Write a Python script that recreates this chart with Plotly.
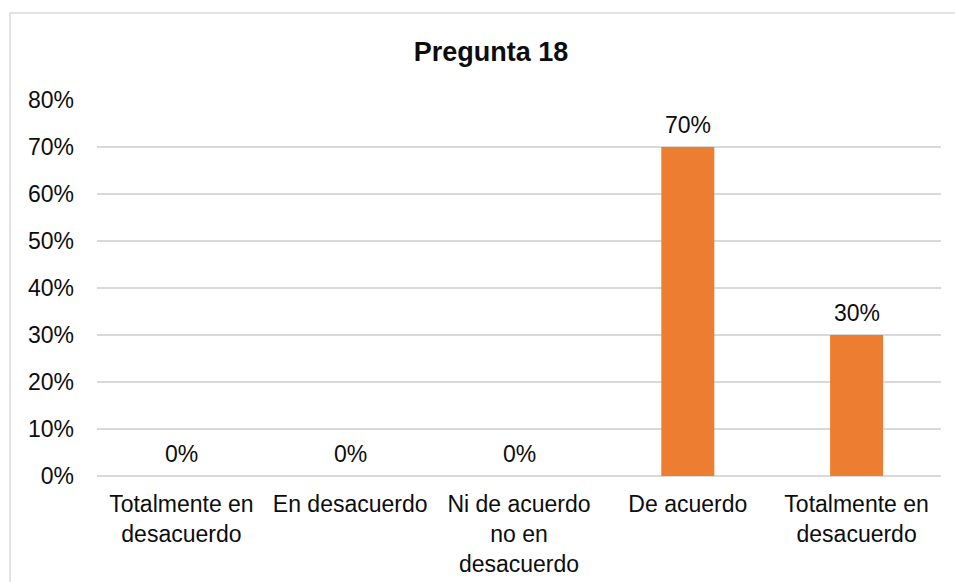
import plotly.graph_objects as go

categories = ["Totalmente en<br>desacuerdo", "En desacuerdo", "Ni de acuerdo<br>no en<br>desacuerdo",
              "De acuerdo", "Totalmente en<br>desacuerdo"]
values = [0.0, 0.0, 0.0, 0.70, 0.30]
title = "Pregunta 18"

W, H = 955, 582
L, R, T, B = 97, 14, 100, 106
pw, ph = W - L - R, H - T - B

xs = list(range(len(categories)))
font = dict(family="Liberation Sans, Arial, sans-serif", size=23, color="#0d0d0d")

fig = go.Figure()
fig.add_trace(go.Bar(x=xs, y=values, marker=dict(color="#ED7D31", line=dict(width=0)),
                     hoverinfo="skip"))

for x, v in zip(xs, values):
    fig.add_annotation(x=x, y=v, text=f"{v*100:.0f}%", showarrow=False, xref="x", yref="y",
                       yanchor="bottom", yshift=7, font=font)

fig.add_shape(type="rect", xref="paper", yref="paper",
              x0=(10 - L) / pw, x1=1.2, y0=-0.6, y1=(ph + T - 13) / ph,
              line=dict(color="#D9D9D9", width=1.5), fillcolor="rgba(0,0,0,0)")

fig.update_layout(
    width=W, height=H,
    margin=dict(l=L, r=R, t=T, b=B, pad=0, autoexpand=False),
    paper_bgcolor="white", plot_bgcolor="white",
    bargap=0.686,
    showlegend=False,
    font=font,
    title=dict(text=f"<b>{title}</b>", x=491 / W, xref="container", xanchor="center",
               y=1 - 52 / H, yref="container", yanchor="middle",
               font=dict(family="Liberation Sans, Arial, sans-serif", size=27, color="#0d0d0d")),
)
fig.update_xaxes(range=[-0.5, len(categories) - 0.5], tickvals=xs, ticktext=categories,
                 showgrid=False, zeroline=False, showline=False, ticks="", tickfont=font,
                 ticklabelstandoff=12, automargin=False)
fig.update_yaxes(range=[0, 0.8], dtick=0.1, tickformat=".0%", showgrid=True,
                 gridcolor="#D9D9D9", gridwidth=1.5, zeroline=True, zerolinecolor="#D9D9D9",
                 zerolinewidth=1.5, showline=False, ticks="", tickfont=font,
                 ticklabelstandoff=22, automargin=False)

fig.write_html("out.html")
